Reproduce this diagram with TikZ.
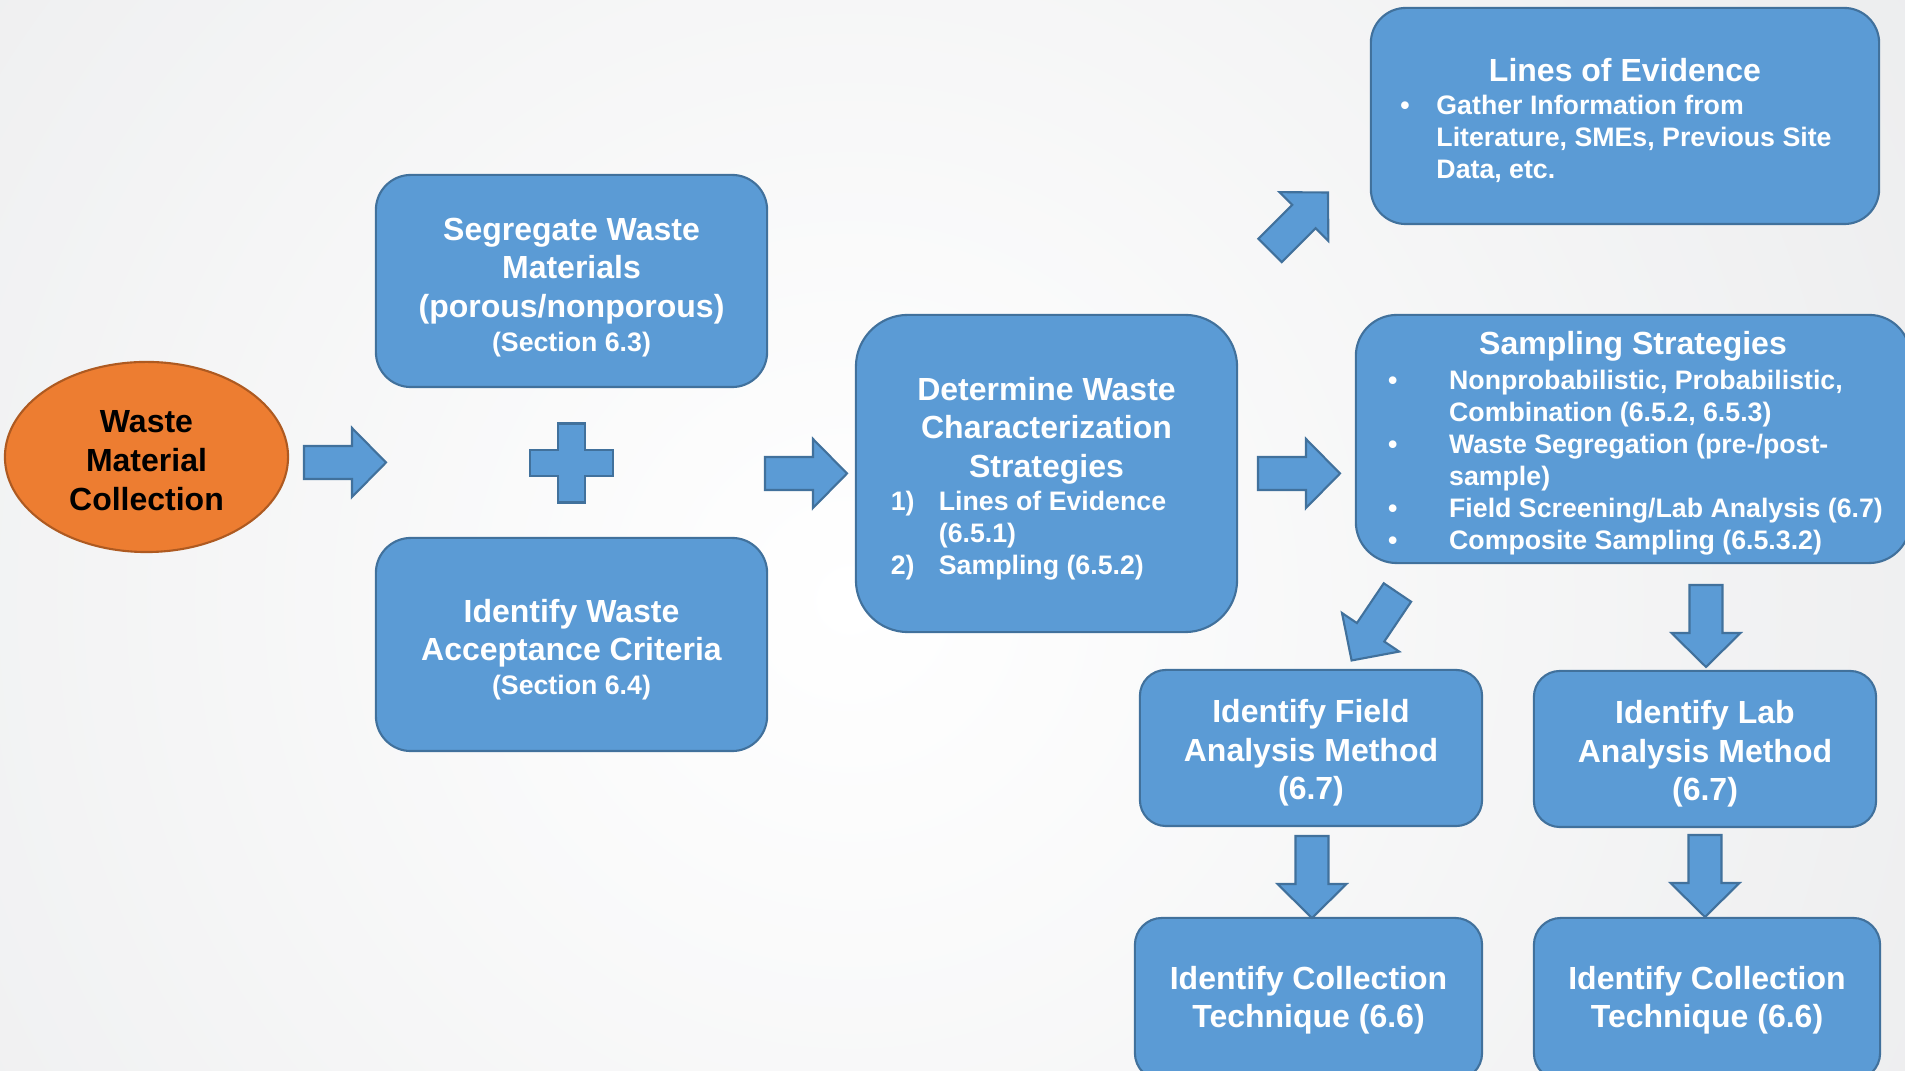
\documentclass[tikz,border=0pt]{standalone}
\usepackage{fontspec}
\setmainfont{Liberation Sans}
\usetikzlibrary{shapes.geometric}

\definecolor{boxblue}{HTML}{5B9BD5}
\definecolor{boxline}{HTML}{41719C}
\definecolor{wastefill}{HTML}{ED7D31}
\definecolor{wasteline}{HTML}{AE5A21}
\definecolor{bggray}{HTML}{E1E2E4}
\newcommand{\subtxt}{\fontsize{7.6pt}{9.1pt}\selectfont}
\newcommand{\toppad}[1]{\rule{0pt}{#1}}

\begin{document}
\begin{tikzpicture}[
      x=0.01cm, y=-0.01cm,
      every node/.style={font=\fontsize{9.1pt}{10.9pt}\selectfont\bfseries, align=center, inner sep=0pt},
      blockshape/.style={draw=boxline, fill=boxblue, line width=0.6pt},
      stage/.style={blockshape, text=white, rounded corners=#1},
      stage/.default=0.35cm,
      bigarrow/.pic={
        \draw[blockshape] (-41,-16.5) -- (7,-16.5) -- (7,-34.5) -- (41,0)
          -- (7,34.5) -- (7,16.5) -- (-41,16.5) -- cycle;
      }
    ]
    \useasboundingbox (0,0) rectangle (1905,1071);
    \shade[inner color=white, outer color=bggray] (-1150,-1400) rectangle (2850,2600);

    % Start
    \node[ellipse, draw=wasteline, fill=wastefill, line width=0.6pt,
          minimum width=2.83cm, minimum height=1.9cm,
          font=\fontsize{9.1pt}{11.1pt}\selectfont\bfseries] (wmc) at (146.5,457)
      {\toppad{8.1pt}Waste\\Material\\Collection};

    % First column
    \node[stage, minimum width=3.91cm, minimum height=2.12cm] (seg) at (571.5,281)
      {\toppad{10.1pt}Segregate Waste\\Materials\\(porous/nonporous)\\[-1.1pt]{\subtxt (Section 6.3)}};
    \node[stage, minimum width=3.91cm, minimum height=2.13cm] (wac) at (571.5,644.5)
      {\toppad{9.5pt}Identify Waste\\Acceptance Criteria\\[-1.4pt]{\subtxt (Section 6.4)}};

    % Strategies
    \node[stage=0.52cm, minimum width=3.81cm, minimum height=3.17cm] (dwc) at (1046.5,473.5)
      {\toppad{10.7pt}Determine Waste\\Characterization\\Strategies\\[-1.4pt]
       {\subtxt\begin{tabular}[t]{@{}p{0.48cm}@{}l@{}}
         1) & Lines of Evidence\\
            & (6.5.1)\\
         2) & Sampling (6.5.2)
       \end{tabular}}\hspace*{0.36cm}};

    % Right column
    \node[stage, minimum width=5.08cm, minimum height=2.16cm] (loe) at (1625,116)
      {\toppad{10.7pt}Lines of Evidence\\[-1.3pt]
       {\subtxt\begin{tabular}[t]{@{}p{0.36cm}@{}l@{}}
         \textbullet & Gather Information from\\
                     & Literature, SMEs, Previous Site\\
                     & Data, etc.
       \end{tabular}}\hspace*{0.18cm}};
    \node[stage=0.41cm, minimum width=5.54cm, minimum height=2.48cm] (ss) at (1633,439)
      {\toppad{10.1pt}Sampling Strategies\\[-1.1pt]
       \hspace*{0.05cm}{\subtxt\begin{tabular}[t]{@{}p{0.61cm}@{}l@{}}
         \textbullet & Nonprobabilistic, Probabilistic,\\
                     & Combination (6.5.2, 6.5.3)\\
         \textbullet & Waste Segregation (pre-/post-\\
                     & sample)\\
         \textbullet & Field Screening/Lab Analysis (6.7)\\
         \textbullet & Composite Sampling (6.5.3.2)
       \end{tabular}}};

    % Analysis methods
    \node[stage=0.26cm, minimum width=3.42cm, minimum height=1.56cm] (fam) at (1311,748)
      {\toppad{9.3pt}Identify Field\\Analysis Method\\(6.7)};
    \node[stage=0.26cm, minimum width=3.42cm, minimum height=1.56cm] (lam) at (1705,749)
      {\toppad{9.3pt}Identify Lab\\Analysis Method\\(6.7)};

    % Collection techniques
    \node[stage=0.27cm, minimum width=3.47cm, minimum height=1.62cm] (fct) at (1308.5,999)
      {\toppad{7.3pt}Identify Collection\\Technique (6.6)};
    \node[stage=0.27cm, minimum width=3.46cm, minimum height=1.62cm] (lct) at (1707,999)
      {\toppad{7.3pt}Identify Collection\\Technique (6.6)};

    % Plus sign
    \draw[blockshape] (558,423.5) -- (585,423.5) -- (585,450) -- (613,450) -- (613,476)
      -- (585,476) -- (585,502.5) -- (558,502.5) -- (558,476) -- (530,476)
      -- (530,450) -- (558,450) -- cycle;

    % Block arrows
    \pic at (345,462.5) {bigarrow};
    \pic at (806,473.5) {bigarrow};
    \pic at (1299,473.5) {bigarrow};
    \pic[rotate=45] at (1299,221.5) {bigarrow};
    \pic[rotate=-124] at (1374.5,626.5) {bigarrow};
    \pic[rotate=-90] at (1706,626) {bigarrow};
    \pic[rotate=-90] at (1312,877) {bigarrow};
    \pic[rotate=-90] at (1705,876) {bigarrow};

\end{tikzpicture}
\end{document}
